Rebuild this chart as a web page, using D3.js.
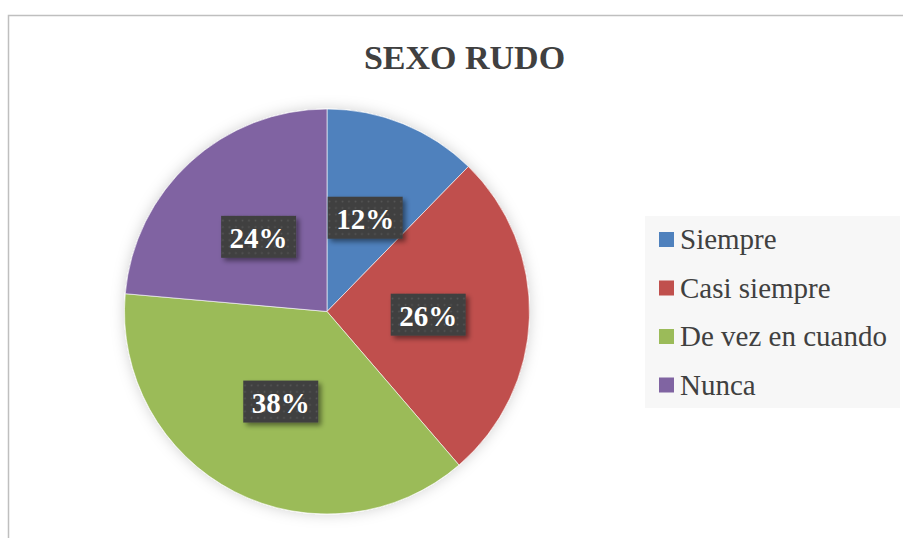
<!DOCTYPE html>
<html>
<head>
<meta charset="utf-8">
<script src="https://cdn.jsdelivr.net/npm/d3@7"></script>
<style>
  body { margin: 0; background: #fff; }
  svg { display: block; }
</style>
</head>
<body>
<div id="chart"></div>
<script>
let width = 903;
let height = 538;

// data (share of answers, %)
let categories = ["Siempre", "Casi siempre", "De vez en cuando", "Nunca"];
let values = [12.3, 26.4, 37.7, 23.6];
let colors = ["#4F81BD", "#C0504D", "#9BBB59", "#8064A2"];
let title = "SEXO RUDO";

let cx = 327, cy = 311.5, radius = 202.5;

let svg = d3.select("#chart").append("svg")
    .attr("width", width)
    .attr("height", height);

let defs = svg.append("defs");

let pieShadow = defs.append("filter").attr("id", "pieShadow")
    .attr("x", "-20%").attr("y", "-20%").attr("width", "140%").attr("height", "140%");
pieShadow.append("feDropShadow")
    .attr("dx", 0).attr("dy", 0).attr("stdDeviation", 7)
    .attr("flood-color", "#000").attr("flood-opacity", 0.18);

let boxShadow = defs.append("filter").attr("id", "boxShadow")
    .attr("x", "-30%").attr("y", "-30%").attr("width", "160%").attr("height", "160%");
boxShadow.append("feDropShadow")
    .attr("dx", 3).attr("dy", 3).attr("stdDeviation", 2.5)
    .attr("flood-color", "#000").attr("flood-opacity", 0.45);

let dots = defs.append("pattern").attr("id", "dots")
    .attr("width", 6.5).attr("height", 6.5)
    .attr("patternUnits", "userSpaceOnUse");
dots.append("rect").attr("width", 6.5).attr("height", 6.5).attr("fill", "#404040");
dots.append("rect").attr("x", 2.5).attr("y", 2.5).attr("width", 1.6).attr("height", 1.6)
    .attr("fill", "#575757");

// chart area border (only top and left are visible in the frame)
svg.append("path")
    .attr("d", "M8.5," + height + " V15.5 H" + width)
    .attr("fill", "none")
    .attr("stroke", "#BFBFBF")
    .attr("stroke-width", 1.5);

svg.append("text")
    .attr("x", 464.5)
    .attr("y", 69)
    .attr("text-anchor", "middle")
    .attr("font-family", "'Liberation Serif', 'Times New Roman', serif")
    .attr("font-weight", "bold")
    .attr("font-size", 34)
    .attr("fill", "#404040")
    .text(title);

let data = categories.map((c, i) => ({ name: c, value: values[i], color: colors[i] }));
let total = d3.sum(values);

let pie = d3.pie().sort(null).value(d => d.value);
let arc = d3.arc().innerRadius(0).outerRadius(radius);
let arcs = pie(data);

let g = svg.append("g").attr("transform", `translate(${cx},${cy})`);

g.append("g")
    .attr("filter", "url(#pieShadow)")
  .selectAll("path")
  .data(arcs)
  .join("path")
    .attr("d", arc)
    .attr("fill", d => d.data.color)
    .attr("stroke", "#fff")
    .attr("stroke-width", 0.6);

let fmt = d3.format(".0%");
let boxW = 75, boxH = 42;

let labels = g.selectAll("g.label")
  .data(arcs)
  .join("g")
    .attr("class", "label")
    .attr("transform", d => `translate(${arc.centroid(d)})`);

labels.append("rect")
    .attr("x", -boxW / 2)
    .attr("y", -boxH / 2)
    .attr("width", boxW)
    .attr("height", boxH)
    .attr("fill", "url(#dots)")
    .attr("filter", "url(#boxShadow)");

labels.append("text")
    .attr("text-anchor", "middle")
    .attr("y", 11)
    .attr("font-family", "'Liberation Serif', 'Times New Roman', serif")
    .attr("font-weight", "bold")
    .attr("font-size", 29)
    .attr("fill", "#fff")
    .text(d => fmt(d.data.value / total));

// legend
let legend = svg.append("g");
legend.append("rect")
    .attr("x", 645).attr("y", 216)
    .attr("width", 255).attr("height", 192)
    .attr("fill", "#F7F7F7");

let rowY = d3.scalePoint().domain(categories).range([239.5, 385]);

let rows = legend.selectAll("g.row")
  .data(data)
  .join("g")
    .attr("class", "row")
    .attr("transform", d => `translate(659,${rowY(d.name)})`);

rows.append("rect")
    .attr("x", 0).attr("y", -7.5)
    .attr("width", 15).attr("height", 15)
    .attr("fill", d => d.color);

rows.append("text")
    .attr("x", 21)
    .attr("y", 9.5)
    .attr("font-family", "'Liberation Serif', 'Times New Roman', serif")
    .attr("font-size", 29)
    .attr("fill", "#404040")
    .text(d => d.name);
</script>
</body>
</html>
